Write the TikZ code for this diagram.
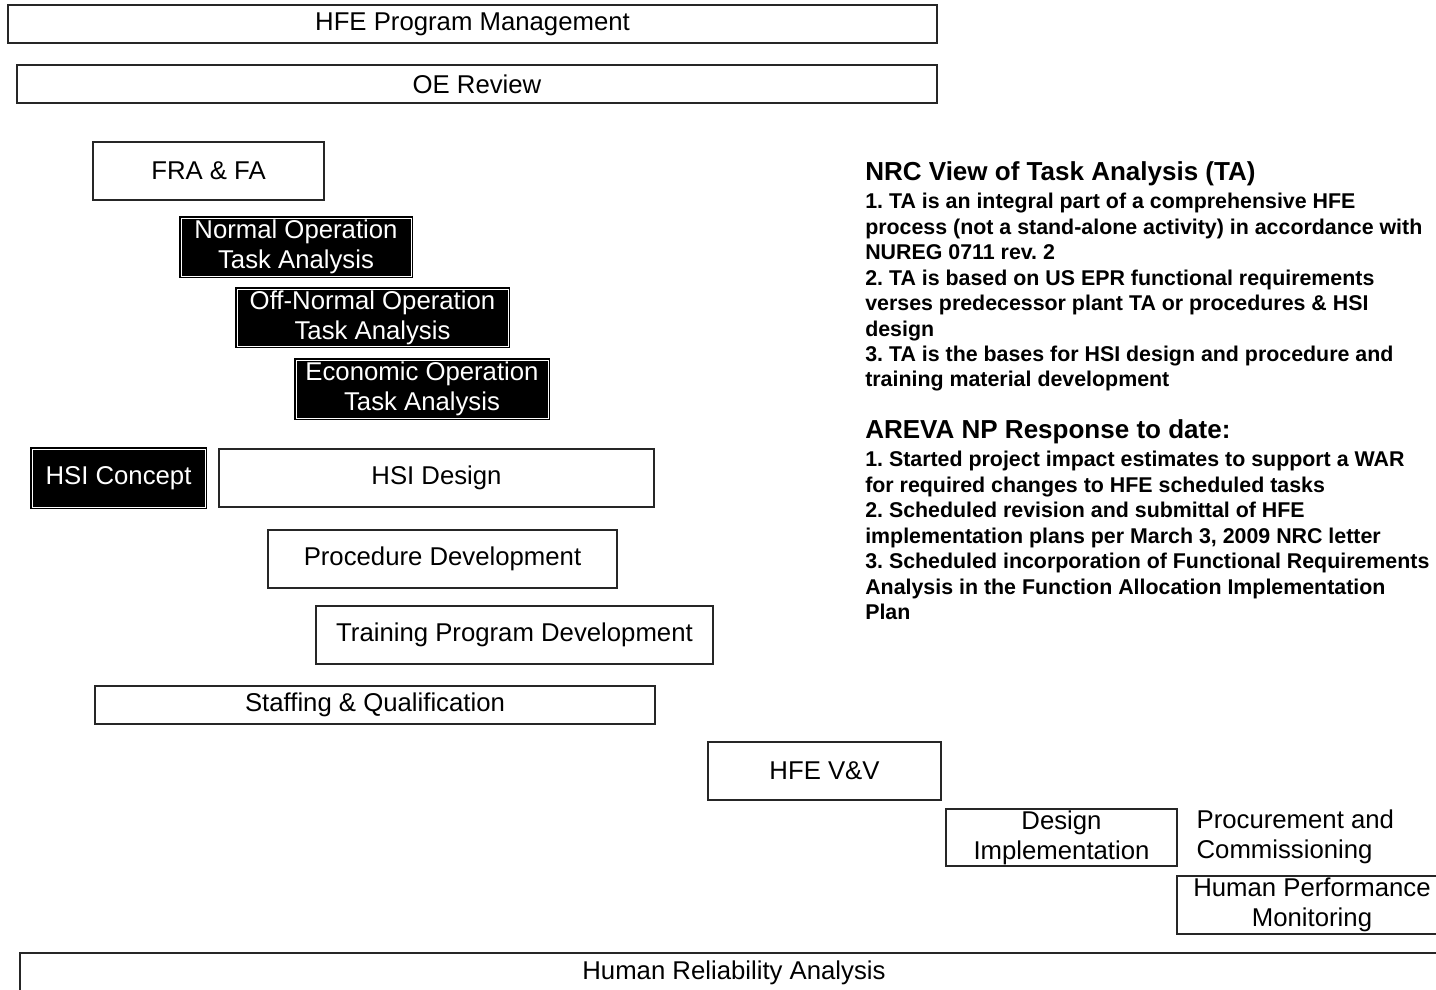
\documentclass[tikz,border=0pt]{standalone}
\usepackage{fontspec}
\setmainfont{Liberation Sans}
\frenchspacing

\begin{document}
\begin{tikzpicture}[x=0.025cm, y=-0.025cm,
  box/.style={draw=black!85, line width=0.9pt, align=center, inner sep=0pt,
    font=\fontsize{18.3}{21.3}\selectfont},
  dark/.style={box, fill=black, text=white, draw=black, double=white, double distance=0.6pt},
  sz/.style 2 args={minimum width=#1*0.025cm, minimum height=#2*0.025cm},
  head/.style={anchor=north west, inner sep=0pt, font=\fontsize{18.5}{21}\selectfont\bfseries},
  body/.style={anchor=north west, inner sep=0pt, align=left, font=\fontsize{15.2}{18.1}\selectfont\bfseries}]
\fill[white] (0,0) rectangle (1436,990);
\useasboundingbox (0,0) rectangle (1436,990);
% schedule bars
\node[box, sz={929}{38}] (pm) at (472.5,24) {HFE Program Management};
\node[box, sz={920}{38}] (oe) at (477,84) {OE Review};
\node[box, sz={231}{58}] (fra) at (208.5,171) {FRA \& FA};
\node[dark, sz={230}{58}] (nota) at (296,247) {Normal Operation\\Task Analysis};
\node[dark, sz={271}{57}] (onta) at (372.5,317.5) {Off-Normal Operation\\Task Analysis};
\node[dark, sz={252}{58}] (eota) at (422,389) {Economic Operation\\Task Analysis};
\node[dark, sz={173}{58}] (hsic) at (118.5,478) {HSI Concept};
\node[box, sz={435}{58}] (hsid) at (436.5,478) {HSI Design};
\node[box, sz={349}{58}] (proc) at (442.5,559) {Procedure Development};
\node[box, sz={397}{58}] (trn) at (514.5,635) {Training Program Development};
\node[box, sz={560}{38}] (stf) at (375,705) {Staffing \& Qualification};
\node[box, sz={233}{58}] (vv) at (824.5,771) {HFE V\&V};
\node[box, sz={231}{57}] (di) at (1061.5,837.5) {Design\\Implementation};
\node[box, draw=none, anchor=west, align=left] (pc) at (1196,837) {Procurement and\\Commissioning};
\node[box, sz={270}{58}] (hpm) at (1312,905) {Human Performance\\Monitoring};
\node[box, sz={1428}{40}] (hra) at (734,973) {Human Reliability Analysis};
% notes on the right
\node[head] (nrc) at (865,161) {NRC View of Task Analysis (TA)};
\node[body] (nrcl) at (865,193) {1. TA is an integral part of a comprehensive HFE\\
process (not a stand-alone activity) in accordance with\\
NUREG 0711 rev. 2\\
2. TA is based on US EPR functional requirements\\
verses predecessor plant TA or procedures \& HSI\\
design\\
3. TA is the bases for HSI design and procedure and\\
training material development};
\node[head] (arv) at (865,419) {AREVA NP Response to date:};
\node[body] (arvl) at (865,451) {1. Started project impact estimates to support a WAR\\
for required changes to HFE scheduled tasks\\
2. Scheduled revision and submittal of HFE\\
implementation plans per March 3, 2009 NRC letter\\
3. Scheduled incorporation of Functional Requirements\\
Analysis in the Function Allocation Implementation\\
Plan};
\end{tikzpicture}
\end{document}
